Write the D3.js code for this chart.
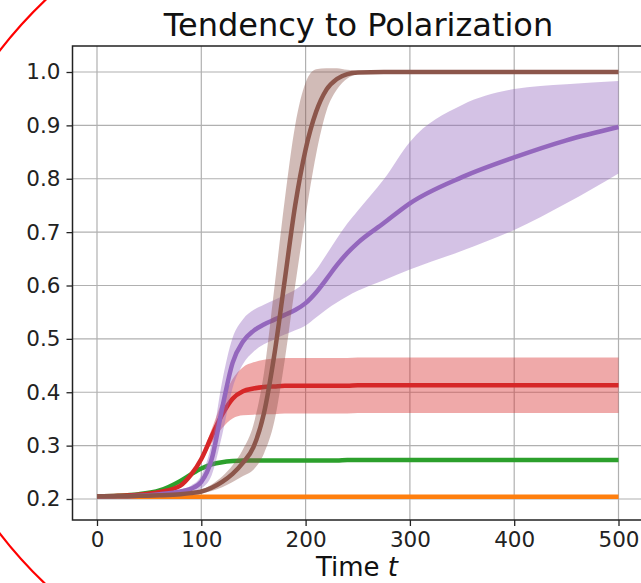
<!DOCTYPE html>
<html><head><meta charset="utf-8">
<script src="https://cdn.jsdelivr.net/npm/d3@7"></script>
<style>body{margin:0;background:#fff;} svg{display:block;font-family:"DejaVu Sans",sans-serif;}</style>
</head><body>
<script>
const times = [0,20,40,60,80,90,100,110,120,130,140,150,160,170,180,190,200,210,220,230,240,250,275,300,350,400,450,500];
const orangeMean = [0.204,0.204,0.204,0.204,0.204,0.204,0.204,0.204,0.204,0.204,0.204,0.204,0.204,0.204,0.204,0.204,0.204,0.204,0.204,0.204,0.204,0.204,0.204,0.204,0.204,0.204,0.204,0.204];
const greenMean = [0.205,0.206,0.209,0.216,0.234,0.246,0.257,0.265,0.269,0.271,0.272,0.272,0.272,0.272,0.272,0.272,0.272,0.272,0.272,0.272,0.273,0.273,0.273,0.273,0.273,0.273,0.273,0.273];
const redMean = [0.205,0.206,0.208,0.213,0.225,0.245,0.275,0.318,0.358,0.388,0.402,0.407,0.410,0.411,0.412,0.412,0.412,0.412,0.412,0.412,0.412,0.413,0.413,0.413,0.413,0.413,0.413,0.413];
const redLower = [0.205,0.206,0.208,0.212,0.223,0.242,0.269,0.305,0.333,0.351,0.357,0.358,0.359,0.359,0.360,0.360,0.360,0.360,0.360,0.360,0.360,0.361,0.361,0.361,0.361,0.361,0.361,0.361];
const redUpper = [0.205,0.206,0.208,0.214,0.227,0.248,0.281,0.331,0.383,0.425,0.447,0.456,0.461,0.463,0.464,0.464,0.464,0.464,0.464,0.464,0.464,0.465,0.465,0.465,0.465,0.465,0.465,0.465];
const purpleMean = [0.205,0.205,0.206,0.209,0.214,0.219,0.232,0.275,0.370,0.455,0.495,0.515,0.527,0.536,0.545,0.554,0.567,0.587,0.612,0.638,0.661,0.680,0.717,0.754,0.803,0.840,0.872,0.897];
const purpleLower = [0.205,0.205,0.205,0.207,0.210,0.213,0.220,0.245,0.320,0.408,0.453,0.476,0.490,0.499,0.508,0.516,0.525,0.540,0.555,0.568,0.580,0.590,0.610,0.630,0.665,0.704,0.754,0.810];
const purpleUpper = [0.205,0.205,0.207,0.211,0.218,0.225,0.244,0.305,0.420,0.502,0.537,0.554,0.564,0.573,0.582,0.592,0.607,0.629,0.658,0.688,0.716,0.740,0.799,0.869,0.938,0.968,0.977,0.983];
const brownMean = [0.205,0.205,0.206,0.207,0.209,0.211,0.214,0.221,0.232,0.247,0.268,0.297,0.360,0.470,0.610,0.750,0.855,0.925,0.967,0.987,0.996,0.999,1.0,1.0,1.0,1.0,1.0,1.0];
const brownLower = [0.205,0.205,0.206,0.207,0.208,0.209,0.211,0.215,0.222,0.232,0.243,0.255,0.285,0.345,0.460,0.600,0.730,0.845,0.927,0.967,0.988,0.996,1.0,1.0,1.0,1.0,1.0,1.0];
const brownUpper = [0.205,0.205,0.206,0.207,0.210,0.213,0.217,0.227,0.242,0.263,0.293,0.339,0.435,0.595,0.760,0.900,0.980,1.005,1.007,1.007,1.004,1.002,1.0,1.0,1.0,1.0,1.0,1.0];
const xTicks = [0,100,200,300,400,500];
const yTicks = [0.2,0.3,0.4,0.5,0.6,0.7,0.8,0.9,1.0];
const titleText = "Tendency to Polarization";

const series = [
  {mean: orangeMean, lo: null, hi: null, color: "#ff7f0e"},
  {mean: greenMean, lo: null, hi: null, color: "#2ca02c"},
  {mean: redMean, lo: redLower, hi: redUpper, color: "#d62728"},
  {mean: purpleMean, lo: purpleLower, hi: purpleUpper, color: "#9467bd"},
  {mean: brownMean, lo: brownLower, hi: brownUpper, color: "#8c564b"}
];

const W = 641, H = 583;
const L = 72.5, R = 645, T = 46, B = 520;
const x = d3.scaleLinear().domain([0,500]).range([97,618.5]);
const y = d3.scaleLinear().domain([0.2,1.0]).range([499,72]);

const svg = d3.select("body").append("svg").attr("width",W).attr("height",H);
svg.append("rect").attr("width",W).attr("height",H).attr("fill","#fff");

const plot = svg.append("g");
plot.append("g").selectAll("line").data(xTicks).join("line")
  .attr("x1",d=>x(d)).attr("x2",d=>x(d)).attr("y1",T).attr("y2",B)
  .attr("stroke","#b0b0b0").attr("stroke-width",1.2);
plot.append("g").selectAll("line").data(yTicks).join("line")
  .attr("x1",L).attr("x2",R).attr("y1",d=>y(d)).attr("y2",d=>y(d))
  .attr("stroke","#b0b0b0").attr("stroke-width",1.2);

const curve = d3.curveMonotoneX;
series.forEach(s => {
  const pts = times.map((t,i)=>({t, m:s.mean[i], lo: s.lo? s.lo[i]:null, hi: s.hi? s.hi[i]:null}));
  if (s.lo) {
    plot.append("path").datum(pts)
      .attr("d", d3.area().curve(curve).x(d=>x(d.t)).y0(d=>y(d.lo)).y1(d=>y(d.hi)))
      .attr("fill", s.color).attr("fill-opacity",0.4).attr("stroke","none");
  }
  plot.append("path").datum(pts)
    .attr("d", d3.line().curve(curve).x(d=>x(d.t)).y(d=>y(d.m)))
    .attr("fill","none").attr("stroke", s.color).attr("stroke-width",4.5);
});

const xAxis = svg.append("g").attr("transform",`translate(0,${B})`)
  .call(d3.axisBottom(x).tickValues(xTicks).tickSize(6).tickPadding(5).tickFormat(d3.format("d")));
const yAxis = svg.append("g").attr("transform",`translate(${L},0)`)
  .call(d3.axisLeft(y).tickValues(yTicks).tickSize(6).tickPadding(6).tickFormat(d3.format(".1f")));
[xAxis,yAxis].forEach(a=>{
  a.select(".domain").remove();
  a.selectAll(".tick line").attr("stroke","#222").attr("stroke-width",1.3);
  a.selectAll(".tick text").attr("fill","#222").style("font-size","21.5px").style("font-family","DejaVu Sans");
});
xAxis.selectAll(".tick text").attr("dy","0.75em").attr("y",11);
svg.append("rect").attr("x",L).attr("y",T).attr("width",R-L).attr("height",B-T)
  .attr("fill","none").attr("stroke","#222").attr("stroke-width",1.5);

svg.append("text").attr("x",358.5).attr("y",36).attr("text-anchor","middle")
  .style("font-size","32px").attr("fill","#111").text(titleText);
const xl = svg.append("text").attr("x",357).attr("y",576).attr("text-anchor","middle")
  .style("font-size","26px").attr("fill","#111");
xl.append("tspan").text("Time ");
xl.append("tspan").style("font-style","italic").text("t");

// red outline annotation (only its left arc falls inside the picture)
svg.append("ellipse").attr("cx",400).attr("cy",292).attr("rx",484).attr("ry",429)
  .attr("fill","none").attr("stroke","#ff0000").attr("stroke-width",2.2);
</script>
</body></html>
